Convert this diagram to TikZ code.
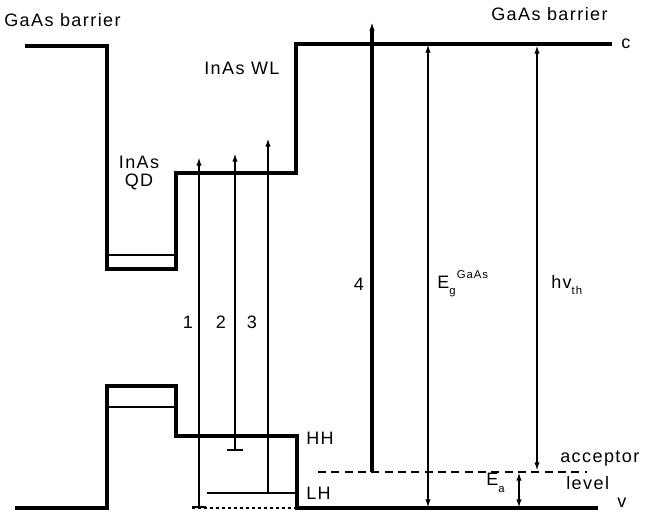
\documentclass[tikz,border=0pt]{standalone}
\usepackage{fontspec}
\setmainfont{Liberation Sans}[LetterSpace=8]
\usetikzlibrary{arrows.meta, positioning}
\newcommand{\smalltxt}[1]{{\fontsize{8.5}{9}\selectfont #1}}

\begin{document}
\begin{tikzpicture}[
        x = 0.75pt, y = -0.75pt,
        >= {Latex[length = 6.5pt, width = 4pt]},
        band/.style = {line width = 2.5pt, line join = miter},
        sublevel/.style = {line width = 1.3pt},
        trans/.style = {line width = 1.4pt},
        every node/.style = {font = \fontsize{13.5}{15}\selectfont, inner sep = 0pt}
    ]
      \useasboundingbox (0,0) rectangle (647,520);

      % conduction band
      \draw[band] (25,46) -- (107,46) -- (107,269) -- (176,269) -- (176,173)
        -- (296,173) -- (296,44) -- (612,44);
      \draw[sublevel] (107,255) -- (176,255);
      % valence band
      \draw[band] (15,508) -- (107,508) -- (107,386) -- (176,386) -- (176,436)
        -- (297,436) -- (297,508) -- (598,508);
      \draw[sublevel] (107,407) -- (176,407);
      \draw[sublevel] (207,493) -- (297,493);
      \draw[sublevel, dash pattern = on 2.5pt off 2pt] (192,508) -- (297,508);
      \draw[sublevel, dash pattern = on 6pt off 4pt] (318,472) -- (587,472);

      % end points of the transitions
      \coordinate (b1) at (199,508);  \coordinate (t1) at (199,157);
      \coordinate (b2) at (235,451);  \coordinate (t2) at (235,153);
      \coordinate (b3) at (268,493);  \coordinate (t3) at (268,138);
      \coordinate (b4) at (372,472);  \coordinate (t4) at (372,22);
      \coordinate (bg) at (428,508);  \coordinate (tg) at (428,44);
      \coordinate (bh) at (537,471);  \coordinate (th) at (537,45);
      \coordinate (ba) at (519,472);  \coordinate (ta) at (519,508);

      \draw[trans, {Bar[width = 10pt]}->] (b1) -- (t1);
      \draw[trans, {Bar[width = 12pt]}->] (b2) -- (t2);
      \draw[trans, ->] (b3) -- (t3);
      \draw[band, ->] (b4) -- (t4);
      \draw[trans, <->] (bg) -- (tg);
      \draw[trans, <->] (bh) -- (th);
      \draw[trans, <->] (ba) -- (ta);

      % labels
      \node[anchor = west] (gaasl) at (4,20) {GaAs barrier};
      \node[anchor = west] (gaasr) at (491,14) {GaAs barrier};
      \node[anchor = west] (wl) at (204,68) {InAs WL};
      \node (qd1) at (139,162) {InAs};
      \node (qd2) at (139,182) {QD};
      \node[anchor = west] (cb) at (621,44) {c};
      \node[anchor = west] (vb) at (617,503) {v};
      \node (n1) at (188,322) {1};
      \node (n2) at (221,322) {2};
      \node (n3) at (252,322) {3};
      \node (n4) at (359,284) {4};
      \node[anchor = west] (hh) at (306,438) {HH};
      \node[anchor = west] (lh) at (306,493) {LH};
      \node[anchor = west] (eg) at (437,284)
        {E\raisebox{-5pt}{\smalltxt{g}}\hspace{1pt}\raisebox{7pt}{\smalltxt{GaAs}}};
      \node[anchor = west] (hv) at (551,285) {hv\raisebox{-5pt}{\smalltxt{th}}};
      \node[anchor = west] (ea) at (486,483) {E\raisebox{-5pt}{\smalltxt{a}}};
      \node[anchor = west] (acc) at (560,459) {acceptor};
      \node[anchor = west] (lev) at (566,483) {level};
    \end{tikzpicture}
\end{document}
